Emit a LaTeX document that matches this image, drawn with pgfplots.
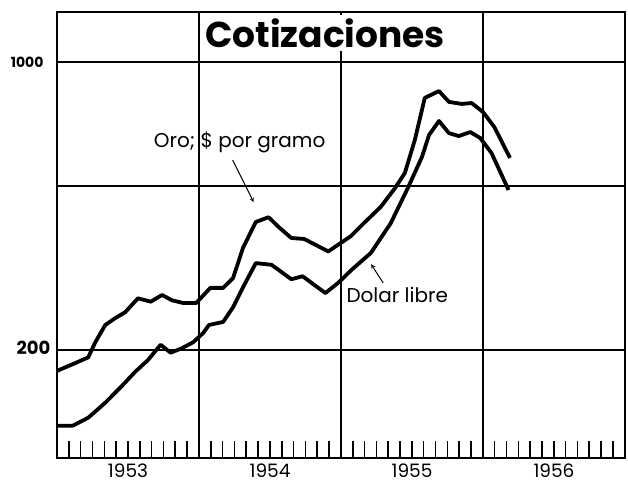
\documentclass[border=0pt]{standalone}
\usepackage{fontspec}
\setmainfont{Poppins}
\usepackage{pgfplots}
\usepackage{pgfplotstable}
\pgfplotsset{compat=1.18}

% cotizaciones, escala logaritmica
\pgfplotstableread{
year value
1953.00 178
1953.13 186
1953.22 192
1953.27 209
1953.34 230
1953.41 239
1953.48 247
1953.57 267
1953.66 262
1953.74 272
1953.81 264
1953.89 260
1953.98 260
1954.05 276
1954.08 283
1954.17 283
1954.24 299
1954.31 354
1954.40 409
1954.49 420
1954.56 398
1954.65 374
1954.74 372
1954.82 360
1954.91 347
1955.00 364
1955.07 378
1955.16 406
1955.28 445
1955.38 494
1955.45 538
1955.52 647
1955.59 818
1955.69 850
1955.76 800
1955.85 791
1955.92 795
1956.00 756
1956.08 695
1956.19 585
}\oro

\pgfplotstableread{
year value
1953.00 131
1953.11 131
1953.22 137
1953.34 149
1953.46 164
1953.55 177
1953.64 189
1953.73 206
1953.80 197
1953.88 202
1953.96 209
1954.03 220
1954.07 230
1954.17 234
1954.24 254
1954.31 284
1954.40 325
1954.51 322
1954.56 313
1954.65 297
1954.73 302
1954.81 288
1954.89 275
1954.98 291
1955.07 312
1955.21 344
1955.35 406
1955.47 494
1955.57 588
1955.62 665
1955.69 719
1955.76 672
1955.83 661
1955.91 676
1955.98 654
1956.06 601
1956.18 489
}\dolar

\begin{document}
\begin{tikzpicture}
\begin{axis}[
  name=ax,
  scale only axis, width=568pt, height=446pt,
  xmin=1953, xmax=1957,
  ymode=log, ymin=109.4, ymax=1322,
  clip=false,
  axis line style={line width=2pt},
  xtick={1953.5,1954.5,1955.5,1956.5},
  xticklabels={1953,1954,1955,1956},
  major x tick style={draw=none},
  minor xtick={1953,1953.083333,...,1957},
  minor x tick style={line width=1.6pt, black},
  minor tick length=17pt,
  xtick align=inside, xtick pos=bottom,
  extra x ticks={1954,1955,1956}, extra x tick labels={},
  extra x tick style={grid=major},
  ytick={200,500,1000}, yticklabels={}, ymajorgrids,
  ytick style={draw=none},
  grid style={line width=1.4pt, black},
  xticklabel style={font=\fontsize{18.5}{18.5}\selectfont, yshift=-2pt},
]
\addplot[black, line width=3.8pt, line join=round] table[x=year, y=value] {\oro};
\addplot[black, line width=3.8pt, line join=round] table[x=year, y=value] {\dolar};

\node[fill=white, inner sep=3pt, font=\fontsize{36}{36}\bfseries\selectfont]
  at (rel axis cs:0.472,0.953) {Cotizaciones};

\node[font=\fontsize{20}{20}\selectfont] at (axis cs:1954.286,639) {Oro{;} \$ por gramo};
\draw[line width=1pt, -stealth] (axis cs:1954.237,578) -- (axis cs:1954.385,457);

\node[font=\fontsize{20}{20}\selectfont] at (axis cs:1955.396,272) {Dolar libre};
\draw[line width=1pt, -stealth] (axis cs:1955.297,291) -- (axis cs:1955.212,323);

\node[anchor=east, font=\fontsize{14}{14}\bfseries\selectfont] at (axis cs:1953,1000) [xshift=-10pt] {1000};
\node[anchor=east, font=\fontsize{18}{18}\bfseries\selectfont] at (axis cs:1953,200) [xshift=-3pt, yshift=2pt] {200};
\end{axis}
\pgfresetboundingbox
\path[use as bounding box] ([xshift=-57pt,yshift=-32pt]ax.south west) rectangle ([xshift=3pt,yshift=12pt]ax.north east);
\end{tikzpicture}
\end{document}
